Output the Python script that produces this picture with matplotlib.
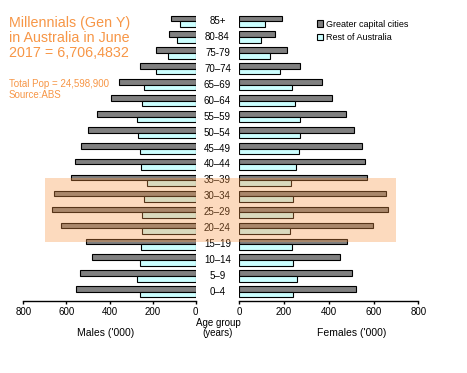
import matplotlib
matplotlib.use("Agg")
import matplotlib.pyplot as plt
import matplotlib.transforms as mtransforms
from matplotlib.patches import Rectangle

plt.rcParams['font.family'] = ['Liberation Sans', 'DejaVu Sans']

# age groups, youngest first
age_groups = ['0–4', '5–9', '10–14', '15–19', '20–24', '25–29', '30–34', '35–39',
              '40–44', '45–49', '50–54', '55–59', '60–64', '65–69', '70–74',
              '75-79', '80-84', '85+']

# thousands of persons
males_capital = [555, 537, 481, 509, 625, 667, 658, 580, 560, 532, 500, 458,
                 393, 355, 258, 183, 123, 113]
males_rest = [258, 272, 258, 253, 248, 248, 240, 225, 253, 258, 267, 273,
              248, 239, 183, 127, 86, 72]
females_capital = [522, 504, 451, 482, 598, 665, 656, 571, 562, 549, 513, 478,
                   415, 371, 272, 211, 158, 192]
females_rest = [241, 259, 241, 237, 228, 241, 241, 232, 254, 268, 272, 272,
                250, 234, 180, 136, 95, 113]

ticks = [0, 200, 400, 600, 800]
series_names = ['Greater capital cities', 'Rest of Australia']

dark = '#808080'
light = '#CCFFFF'
orange = '#F79646'

fig = plt.figure(figsize=(4.67, 3.73), dpi=100)
axL = fig.add_axes([0.0499, 0.194, 0.3692, 0.775])
axR = fig.add_axes([0.5124, 0.194, 0.3833, 0.775])

ypos = list(range(len(age_groups)))
h = 0.35
up = [y + h / 2 for y in ypos]
down = [y - h / 2 for y in ypos]

axL.barh(up, males_capital, height=h, color=dark, edgecolor='black', linewidth=0.8)
axL.barh(down, males_rest, height=h, color=light, edgecolor='black', linewidth=0.8)
b1 = axR.barh(up, females_capital, height=h, color=dark, edgecolor='black', linewidth=0.8)
b2 = axR.barh(down, females_rest, height=h, color=light, edgecolor='black', linewidth=0.8)

for ax in (axL, axR):
    ax.set_ylim(-0.55, 17.6)
    ax.set_xlim(0, 800)
    ax.set_xticks(ticks)
    ax.set_xticklabels([str(t) for t in ticks], fontsize=7)
    ax.set_yticks([])
    for s in ('top', 'left', 'right'):
        ax.spines[s].set_visible(False)
    ax.spines['bottom'].set_linewidth(1.0)
    ax.tick_params(axis='x', length=2.5, width=1.0, pad=2)
axL.invert_xaxis()

# age group labels in the gap between the two halves
lbl_tr = mtransforms.blended_transform_factory(fig.transFigure, axL.transData)
for y, g in zip(ypos, age_groups):
    axL.text(0.4657, y, g, transform=lbl_tr, ha='center', va='center',
             fontsize=7, clip_on=False)

# millennials highlight, drawn over the bars
band = Rectangle((0.0961, 3.15), 0.8478 - 0.0961, 4.0, transform=lbl_tr,
                 facecolor=orange, alpha=0.35, edgecolor='none', zorder=5)
fig.patches.append(band)

axR.legend([b1, b2], series_names, loc='upper left', fontsize=6.5,
           bbox_to_anchor=(0.671, 0.957), bbox_transform=fig.transFigure,
           frameon=False, handlelength=0.7, handleheight=0.7,
           handletextpad=0.3, labelspacing=0.5, borderaxespad=0)

fig.text(0.019, 1 - 16 / 373, 'Millennials (Gen Y)\nin Australia in June\n2017 = 6,706,4832',
         color=orange, fontsize=10.3, va='top', ha='left', linespacing=1.08)
fig.text(0.019, 1 - 79 / 373, 'Total Pop = 24,598,900\nSource:ABS',
         color=orange, fontsize=7, va='top', ha='left', linespacing=1.1)

fig.text(218 / 467, 1 - 318 / 373, 'Age group\n(years)', ha='center', va='top',
         fontsize=7, linespacing=0.95)
fig.text(106 / 467, 1 - 333 / 373, "Males ('000)", ha='center', va='center', fontsize=7.5)
fig.text(351.7 / 467, 1 - 333 / 373, "Females ('000)", ha='center', va='center', fontsize=7.5)

fig.savefig('out.png', dpi=100)
